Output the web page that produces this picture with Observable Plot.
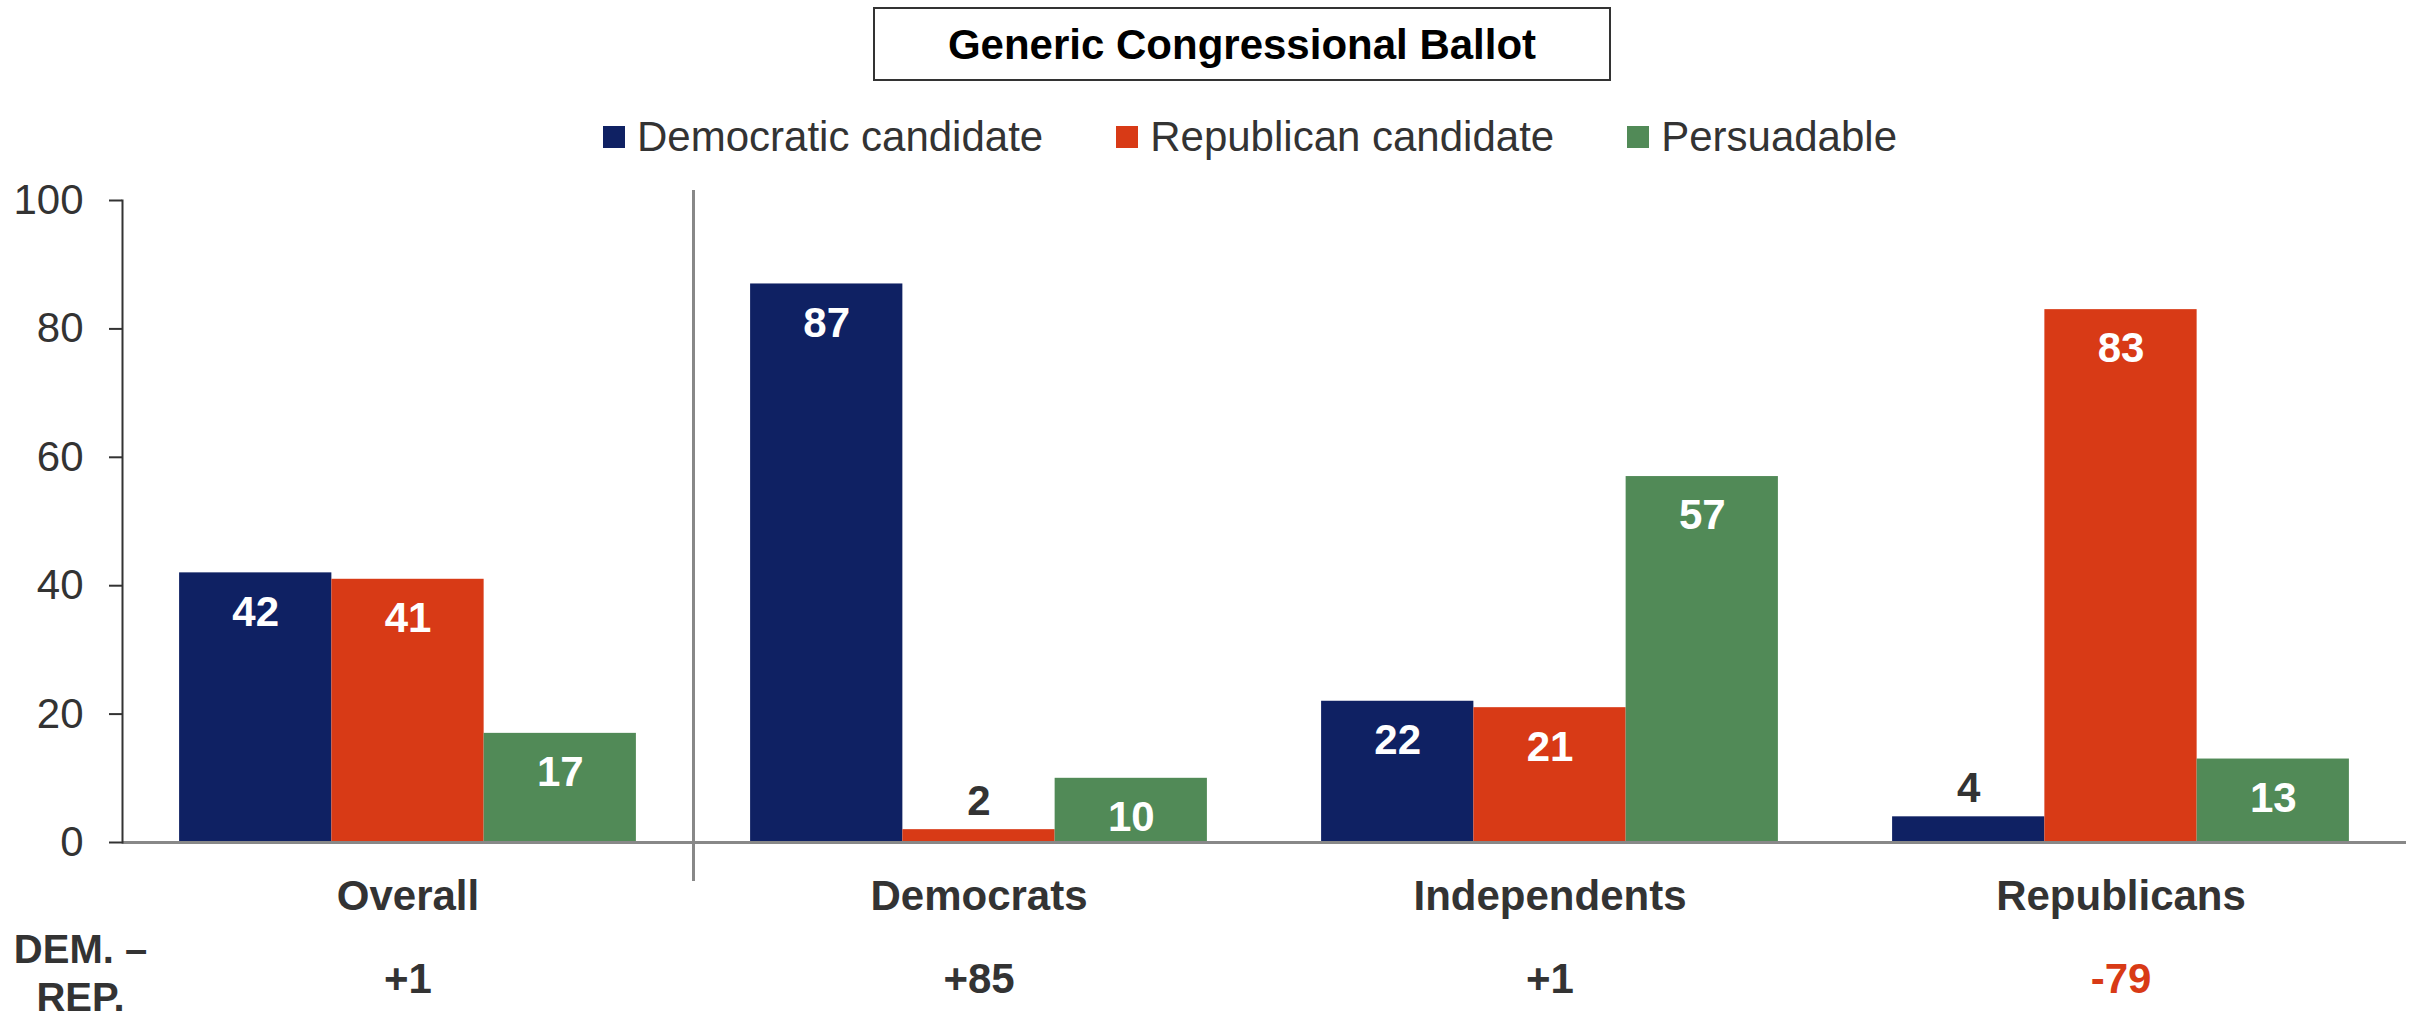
<!DOCTYPE html>
<html>
<head>
<meta charset="utf-8">
<script src="https://cdn.jsdelivr.net/npm/d3@7"></script>
<script src="https://cdn.jsdelivr.net/npm/@observablehq/plot@0.6"></script>
<style>
  body { margin: 0; background: #fff; font-family: "Liberation Sans", Arial, sans-serif; }
  #wrap { position: relative; width: 2417px; height: 1018px; overflow: hidden; background: #fff; }
  #header { position: relative; height: 170px; }
  #title { position: absolute; left: 873px; top: 7px; width: 734px; height: 68px; box-sizing: content-box;
           border: 2px solid #333; display: flex; align-items: center; justify-content: center;
           font-weight: bold; font-size: 42px; color: #000; padding-top: 2px; }
  #legend { position: absolute; left: 603px; top: 113px; display: flex; align-items: center;
            font-size: 42px; color: #333; white-space: nowrap; }
  .item { display: flex; align-items: center; margin-right: 73px; }
  .sw { width: 22px; height: 22px; margin-right: 12px; }
  svg { display: block; }
</style>
</head>
<body>
<div id="wrap">
  <div id="header">
    <div id="title"></div>
    <div id="legend"></div>
  </div>
  <div id="chart"></div>
</div>
<script>
// ---- data ----
const titleText = "Generic Congressional Ballot";
const groups = ["Overall", "Democrats", "Independents", "Republicans"];
const series = ["Democratic candidate", "Republican candidate", "Persuadable"];
const demValues = [42, 87, 22, 4];
const repValues = [41, 2, 21, 83];
const persValues = [17, 10, 57, 13];
const diffs = [1, 85, 1, -79];
const diffLabel = "DEM. –\nREP.";
const yTicks = [0, 20, 40, 60, 80, 100];
const colors = ["#0f2163", "#d83a16", "#518a57"];

// ---- header ----
document.getElementById("title").textContent = titleText;
const legend = document.getElementById("legend");
series.forEach((s, i) => {
  const item = document.createElement("div");
  item.className = "item";
  if (i === series.length - 1) item.style.marginRight = "0";
  const sw = document.createElement("div");
  sw.className = "sw";
  sw.style.background = colors[i];
  const t = document.createElement("span");
  t.textContent = s;
  item.appendChild(sw);
  item.appendChild(t);
  legend.appendChild(item);
});

// ---- table ----
const valueSets = [demValues, repValues, persValues];
const groupWidth = 0.8;
const barW = groupWidth / series.length;
const rows = [];
groups.forEach((g, gi) => {
  series.forEach((s, si) => {
    const x1 = gi - groupWidth / 2 + si * barW;
    rows.push({group: g, series: s, value: valueSets[si][gi], x1, x2: x1 + barW, xc: x1 + barW / 2});
  });
});
const diffRows = diffs.map((d, i) => ({i, d, label: d > 0 ? "+" + d : String(d)}));
const insideMin = 8;

const font = "'Liberation Sans', Arial, sans-serif";

const chart = Plot.plot({
  width: 2417,
  height: 848,
  marginLeft: 122,
  marginRight: 11,
  marginTop: 30,
  marginBottom: 176,
  style: {fontFamily: font, fontSize: "42px", color: "#333", background: "white", overflow: "visible"},
  x: {type: "linear", domain: [-0.5, groups.length - 0.5]},
  y: {domain: [0, 100]},
  color: {domain: series, range: colors},
  marks: [
    Plot.rectY(rows, {x1: "x1", x2: "x2", y1: 0, y2: "value", fill: "series"}),
    Plot.ruleY([0], {stroke: "#888", strokeWidth: 3}),
    Plot.ruleX([0.5], {stroke: "#888", strokeWidth: 3, insetTop: -10, insetBottom: -39}),
    Plot.frame({anchor: "left", stroke: "#333", strokeWidth: 2}),
    Plot.axisY({ticks: yTicks, tickSize: 13, tickPadding: 26, strokeWidth: 2, fontSize: 42, label: null}),
    Plot.axisX({ticks: groups.map((g, i) => i), tickFormat: i => groups[i], tickSize: 0, tickPadding: 38,
                fontSize: 42, fontWeight: "bold", label: null}),
    Plot.text(rows.filter(d => d.value >= insideMin), {x: "xc", y: "value", text: d => String(d.value),
      lineAnchor: "top", dy: 23, fill: "white", fontWeight: "bold", fontSize: 42}),
    Plot.text(rows.filter(d => d.value < insideMin), {x: "xc", y: "value", text: d => String(d.value),
      lineAnchor: "bottom", dy: -15, fill: "#333", fontWeight: "bold", fontSize: 42}),
    Plot.text(diffRows.filter(d => d.d >= 0), {x: "i", frameAnchor: "bottom", text: "label",
      lineAnchor: "bottom", dy: 150, fill: "#333", fontWeight: "bold", fontSize: 42}),
    Plot.text(diffRows.filter(d => d.d < 0), {x: "i", frameAnchor: "bottom", text: "label",
      lineAnchor: "bottom", dy: 150, fill: "#d83a16", fontWeight: "bold", fontSize: 42}),
    Plot.text([diffLabel], {frameAnchor: "bottom-left", dx: -42, dy: 168, lineAnchor: "bottom",
      lineHeight: 1.2, textAnchor: "middle", fill: "#333", fontWeight: "bold", fontSize: 40})
  ]
});
document.getElementById("chart").appendChild(chart);
</script>
</body>
</html>
